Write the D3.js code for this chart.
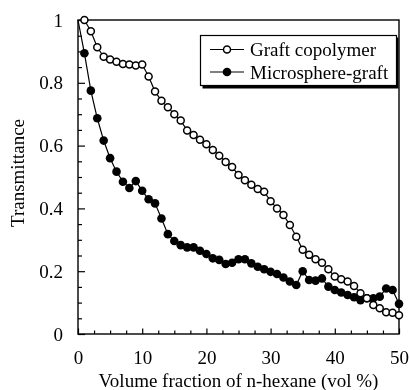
<!DOCTYPE html>
<html>
<head>
<meta charset="utf-8">
<script src="https://cdn.jsdelivr.net/npm/d3@7"></script>
<style>
  body { margin: 0; background: #fff; }
  svg { will-change: transform; }
  svg text { font-family: "Liberation Serif", "Times New Roman", serif; fill: #000; }
</style>
</head>
<body>
<svg id="chart"></svg>
<script>
// volume fraction of n-hexane (vol %)
var hexane = [1, 2, 3, 4, 5, 6, 7, 8, 9, 10, 11, 12, 13, 14, 15, 16, 17, 18, 19, 20,
  21, 22, 23, 24, 25, 26, 27, 28, 29, 30, 31, 32, 33, 34, 35, 36, 37, 38, 39, 40,
  41, 42, 43, 44, 45, 46, 47, 48, 49, 50];

var graftCopolymer = [1.0, 0.964, 0.913, 0.883, 0.874, 0.867, 0.86, 0.858, 0.855, 0.858,
  0.82, 0.772, 0.743, 0.722, 0.70, 0.68, 0.648, 0.634, 0.619, 0.604,
  0.586, 0.568, 0.548, 0.532, 0.506, 0.49, 0.475, 0.462, 0.453, 0.423,
  0.40, 0.379, 0.347, 0.31, 0.268, 0.252, 0.238, 0.227, 0.206, 0.183,
  0.174, 0.167, 0.153, 0.13, 0.114, 0.092, 0.082, 0.069, 0.068, 0.06];

var microsphereGraft = [0.894, 0.775, 0.687, 0.616, 0.56, 0.517, 0.485, 0.465, 0.487, 0.456,
  0.429, 0.416, 0.368, 0.318, 0.296, 0.283, 0.276, 0.276, 0.265, 0.255,
  0.241, 0.236, 0.223, 0.227, 0.238, 0.238, 0.225, 0.214, 0.206, 0.198,
  0.191, 0.18, 0.167, 0.156, 0.20, 0.172, 0.17, 0.177, 0.151, 0.14,
  0.132, 0.124, 0.117, 0.108, 0.114, 0.114, 0.119, 0.145, 0.14, 0.096];
// the filled curve is drawn from the top corner (no marker there)
var microsphereStart = [0, 1.0];

var seriesNames = ["Graft copolymer", "Microsphere-graft"];
var xTicks = [0, 10, 20, 30, 40, 50];
var yTicks = [0, 0.2, 0.4, 0.6, 0.8, 1];

var width = 410, height = 390;
var plotLeft = 78, plotRight = 399, plotTop = 20, plotBottom = 334;

var svg = d3.select("#chart").attr("width", width).attr("height", height);

var x = d3.scaleLinear().domain([0, 50]).range([plotLeft, plotRight]);
var y = d3.scaleLinear().domain([0, 1]).range([plotBottom, plotTop]);

var openData = hexane.map(function (h, i) { return [h, graftCopolymer[i]]; });
var filledData = hexane.map(function (h, i) { return [h, microsphereGraft[i]]; });

// frame
svg.append("rect")
  .attr("x", plotLeft).attr("y", plotTop)
  .attr("width", plotRight - plotLeft).attr("height", plotBottom - plotTop)
  .attr("fill", "none").attr("stroke", "#000").attr("stroke-width", 1.4);

// minor ticks (inward)
var xMinor = d3.range(0, 50.01, 2.5).filter(function (v) { return v % 10 !== 0; });
var yMinor = d3.range(0, 1.001, 0.05).filter(function (v) { return Math.abs(v * 5 - Math.round(v * 5)) > 1e-6; });

svg.append("g").attr("transform", "translate(0," + plotBottom + ")")
  .call(d3.axisBottom(x).tickValues(xMinor).tickSize(-3.5).tickFormat(""))
  .call(function (g) { g.select(".domain").remove(); });
svg.append("g").attr("transform", "translate(" + plotLeft + ",0)")
  .call(d3.axisLeft(y).tickValues(yMinor).tickSize(-4).tickFormat(""))
  .call(function (g) { g.select(".domain").remove(); });

// major ticks with labels
var xAxis = svg.append("g").attr("transform", "translate(0," + plotBottom + ")")
  .call(d3.axisBottom(x).tickValues(xTicks).tickSizeInner(-5.5).tickSizeOuter(0).tickPadding(17).tickFormat(d3.format("d")));
xAxis.select(".domain").remove();
xAxis.selectAll("text").attr("font-size", 19).style("font-family", "Liberation Serif");

var yAxis = svg.append("g").attr("transform", "translate(" + plotLeft + ",0)")
  .call(d3.axisLeft(y).tickValues(yTicks).tickSizeInner(-7).tickSizeOuter(0).tickPadding(15)
    .tickFormat(function (d) { return d === 0 || d === 1 ? d3.format("d")(d) : d3.format(".1f")(d); }));
yAxis.select(".domain").remove();
yAxis.selectAll("text").attr("font-size", 19).style("font-family", "Liberation Serif");

svg.selectAll(".tick line").attr("stroke", "#000").attr("stroke-width", 1.2);
svg.selectAll(".tick text").attr("fill", "#000");

// axis titles
svg.append("text")
  .attr("x", 238.5).attr("y", 387)
  .attr("text-anchor", "middle").attr("font-size", 19)
  .text("Volume fraction of n-hexane (vol %)");

svg.append("text")
  .attr("transform", "translate(24,173) rotate(-90)")
  .attr("text-anchor", "middle").attr("font-size", 19)
  .text("Transmittance");

var line = d3.line().x(function (d) { return x(d[0]); }).y(function (d) { return y(d[1]); });

// microsphere-graft (filled)
svg.append("path")
  .datum([microsphereStart].concat(filledData))
  .attr("d", line).attr("fill", "none").attr("stroke", "#000").attr("stroke-width", 1.2);
svg.append("g").selectAll("circle").data(filledData).join("circle")
  .attr("cx", function (d) { return x(d[0]); })
  .attr("cy", function (d) { return y(d[1]); })
  .attr("r", 4.3).attr("fill", "#000");

// graft copolymer (open)
svg.append("path")
  .datum(openData)
  .attr("d", line).attr("fill", "none").attr("stroke", "#000").attr("stroke-width", 1.2);
svg.append("g").selectAll("circle").data(openData).join("circle")
  .attr("cx", function (d) { return x(d[0]); })
  .attr("cy", function (d) { return y(d[1]); })
  .attr("r", 3.5).attr("fill", "#fff").attr("stroke", "#000").attr("stroke-width", 1.5);

// legend
var lg = svg.append("g").attr("transform", "translate(200,35)");
lg.append("rect").attr("x", 2.5).attr("y", 2.5).attr("width", 196).attr("height", 51).attr("fill", "#000");
lg.append("rect").attr("x", 0.5).attr("y", 0.5).attr("width", 196).attr("height", 50)
  .attr("fill", "#fff").attr("stroke", "#000").attr("stroke-width", 1.2);

seriesNames.forEach(function (name, i) {
  var row = lg.append("g").attr("transform", "translate(0," + (14.5 + i * 22.5) + ")");
  row.append("line").attr("x1", 10).attr("x2", 44).attr("y1", 0).attr("y2", 0)
    .attr("stroke", "#000").attr("stroke-width", 1.2);
  if (i === 0) {
    row.append("circle").attr("cx", 27).attr("cy", 0).attr("r", 3.5)
      .attr("fill", "#fff").attr("stroke", "#000").attr("stroke-width", 1.5);
  } else {
    row.append("circle").attr("cx", 27).attr("cy", 0).attr("r", 4.3).attr("fill", "#000");
  }
  row.append("text").attr("x", 50).attr("y", 0).attr("dy", "0.35em")
    .attr("font-size", 19).text(name);
});
</script>
</body>
</html>
